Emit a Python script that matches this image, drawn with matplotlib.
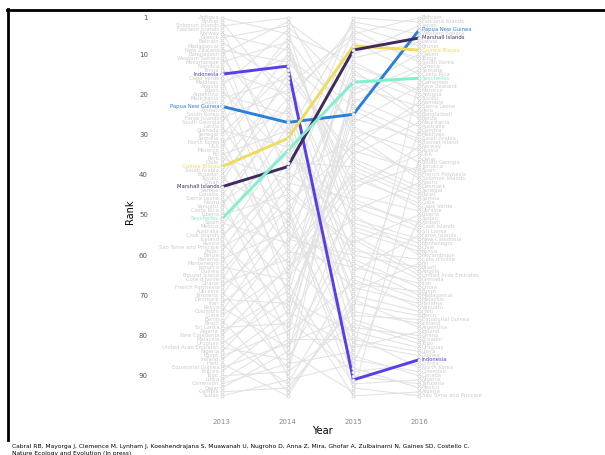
import numpy as np
import matplotlib
matplotlib.use("Agg")
import matplotlib.pyplot as plt
from matplotlib.lines import Line2D

years = [2013, 2014, 2015, 2016]

# countries in their 2013 rank order
countries = [
    "Antigua", "Brunei", "Solomon Islands", "Falkland Islands", "Norway",
    "Greece", "Bahrain", "Madagascar", "New Zealand", "Bangladesh",
    "Western Sahara", "Mozambique", "Namibia", "Tonga", "Indonesia",
    "Cape Verde", "Maldives", "Angola", "Japan", "Argentina",
    "Mauritania", "Gabon", "Papua New Guinea", "Kiribati", "South Korea",
    "Faroe Islands", "South Georgia", "Latvia", "Grenada", "Senegal",
    "Somalia", "North Korea", "USA", "Morocco", "Fiji",
    "Peru", "Chile", "Guinea Bissau", "Saudi Arabia", "Ecuador",
    "Tuvalu", "Oman", "Marshall Islands", "Samoa", "Canada",
    "Sierra Leone", "Nauru", "Vanuatu", "Costa Rica", "Liberia",
    "Seychelles", "Spain", "Mexico", "Australia", "Cook Islands",
    "Iceland", "Russia", "Sao Tome and Principe", "Palau", "Belize",
    "Panama", "Montenegro", "Jamaica", "Guinea", "Bouvet Island",
    "Cote d'Ivoire", "Ghana", "French Polynesia", "Ukraine", "Tanzania",
    "Denmark", "Iran", "Kenya", "Colombia", "Cuba",
    "Benin", "Brazil", "Sri Lanka", "Algeria", "New Caledonia",
    "Malaysia", "Uruguay", "United Arab Emirates", "Nigeria", "Egypt",
    "Ireland", "Haiti", "Equatorial Guinea", "Eritrea", "Togo",
    "Libya", "Cameroon", "Qatar", "Gambia", "Sudan",
]

rank_2013 = list(range(1, 96))
rank_2014 = [5, 22, 1, 40, 9, 3, 18, 55, 12, 2,
             30, 7, 47, 20, 13, 60, 11, 4, 36, 25,
             16, 70, 27, 8, 44, 19, 6, 52, 33, 14,
             65, 24, 10, 58, 29, 41, 17, 31, 75, 21,
             50, 15, 38, 62, 26, 80, 35, 23, 68, 45,
             34, 57, 28, 85, 42, 32, 73, 49, 37, 90,
             54, 39, 66, 46, 78, 43, 61, 53, 88, 48,
             72, 59, 83, 51, 64, 94, 56, 77, 69, 63,
             92, 71, 86, 67, 79, 74, 95, 82, 76, 89,
             81, 87, 84, 93, 91]
rank_2015 = [12, 3, 30, 1, 44, 20, 5, 62, 27, 14,
             2, 50, 33, 6, 91, 40, 23, 55, 10, 71,
             35, 19, 25, 47, 4, 64, 28, 11, 58, 37,
             22, 80, 42, 13, 69, 31, 53, 8, 26, 76,
             15, 61, 9, 39, 85, 18, 49, 66, 7, 57,
             17, 34, 88, 21, 46, 74, 29, 93, 38, 16,
             68, 52, 43, 82, 24, 59, 78, 32, 45, 90,
             36, 63, 54, 86, 41, 72, 60, 48, 95, 51,
             65, 79, 56, 92, 67, 83, 70, 75, 89, 77,
             81, 84, 94, 73, 87]
rank_2016 = [20, 8, 41, 2, 33, 13, 1, 70, 18, 25,
             5, 60, 22, 11, 86, 48, 30, 64, 3, 78,
             27, 10, 4, 52, 12, 55, 37, 7, 66, 44,
             14, 88, 35, 19, 62, 24, 58, 9, 31, 81,
             21, 68, 6, 46, 90, 23, 42, 73, 15, 50,
             16, 39, 93, 28, 53, 77, 34, 95, 45, 26,
             72, 57, 38, 85, 32, 61, 80, 40, 49, 92,
             43, 67, 59, 89, 47, 75, 63, 54, 94, 56,
             71, 83, 65, 91, 69, 79, 74, 76, 87, 82,
             84, 17, 36, 29, 51]

highlight = {
    "Indonesia": "#5b3ce6",
    "Papua New Guinea": "#2a80d8",
    "Marshall Islands": "#3f2a5e",
    "Guinea Bissau": "#f0dc5c",
    "Seychelles": "#80f0cf",
}


def to_rank(vals):
    v = np.asarray(vals)
    return np.argsort(np.argsort(v, kind="stable"), kind="stable") + 1


ranks = np.column_stack([to_rank(r) for r in
                         (rank_2013, rank_2014, rank_2015, rank_2016)])

fig = plt.figure(figsize=(6.05, 4.55), dpi=100)
ax = fig.add_axes([0.256, 0.0945, 0.554, 0.8795])

grey = "#e2e2e2"
# grey lines for every country
for i, name in enumerate(countries):
    if name in highlight:
        continue
    ax.plot(years, ranks[i], color=grey, lw=0.75, zorder=1)

# highlighted countries on top
for i, name in enumerate(countries):
    if name not in highlight:
        continue
    ax.plot(years, ranks[i], color=highlight[name], lw=2.1, zorder=3,
            solid_capstyle="round")

# hollow circles at each point
for j, yr in enumerate(years):
    ax.scatter(np.full(len(countries), yr), ranks[:, j], s=5,
               facecolors="white", edgecolors="#cacaca", linewidths=0.5,
               zorder=4)

# labels left and right
for i, name in enumerate(countries):
    col = highlight.get(name, "#cccccc")
    ax.annotate(name, (years[0], ranks[i, 0]), xytext=(-2, 0),
                textcoords="offset points", ha="right", va="center",
                fontsize=3.8, color=col, zorder=5)
    ax.annotate(name, (years[-1], ranks[i, 3]), xytext=(2, 0),
                textcoords="offset points", ha="left", va="center",
                fontsize=3.8, color=col, zorder=5)

ax.set_xlim(2011.98, 2017.08)
ax.set_ylim(99, -0.5)
ax.set_yticks([1, 10, 20, 30, 40, 50, 60, 70, 80, 90])
ax.set_xticks(years)
ax.tick_params(axis="both", length=0, labelsize=5)
ax.tick_params(axis="y", labelcolor="#555555", pad=5)
ax.tick_params(axis="x", labelcolor="#888888", pad=5)
for s in ax.spines.values():
    s.set_visible(False)
ax.set_ylabel("Rank", fontsize=7, labelpad=3)
ax.set_xlabel("Year", fontsize=7, labelpad=1)

# frame lines
fig.add_artist(Line2D([7 / 605, 1], [1 - 9.5 / 455, 1 - 9.5 / 455],
                      color="black", lw=2))
fig.add_artist(Line2D([7.5 / 605, 7.5 / 605], [1 - 9 / 455, 1 - 440 / 455],
                      color="black", lw=2))

fig.text(12 / 605, 1 - 446.5 / 455,
         "Cabral RB, Mayorga J, Clemence M, Lynham J, Koeshendrajana S, "
         "Muawanah U, Nugroho D, Anna Z, Mira, Ghofar A, Zulbainarni N, "
         "Gaines SD, Costello C.",
         fontsize=4.3, va="center", ha="left")
fig.text(12 / 605, 1 - 454 / 455, "Nature Ecology and Evolution (In press)",
         fontsize=4.3, va="center", ha="left")

fig.savefig("out.png", dpi=100)
